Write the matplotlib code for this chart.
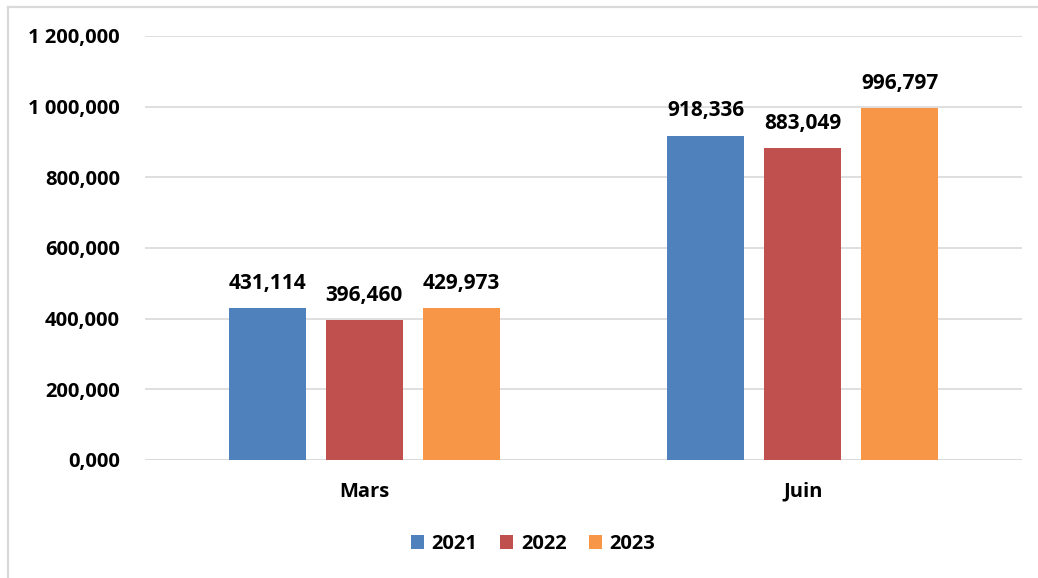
import matplotlib
matplotlib.use("Agg")
import matplotlib.pyplot as plt
from matplotlib.lines import Line2D
from matplotlib.ticker import FuncFormatter
import numpy as np

categories = ["Mars", "Juin"]
years = ["2021", "2022", "2023"]
values_2021 = [431.114, 918.336]
values_2022 = [396.460, 883.049]
values_2023 = [429.973, 996.797]
series = [values_2021, values_2022, values_2023]
colors = ["#4f81bd", "#c0504d", "#f79646"]

plt.rcParams['font.family'] = ['Open Sans', 'DejaVu Sans']
plt.rcParams['font.weight'] = 'bold'

W, H = 1038, 578
fig = plt.figure(figsize=(W/100, H/100), dpi=100)
ax = fig.add_axes([145/W, 1-460/H, (1022-145)/W, (460-36)/H])

def fmt(v):
    s = f"{v:,.3f}"
    intpart, dec = s.split(".")
    intpart = intpart.replace(",", " ")
    return f"{intpart},{dec}"

x = np.arange(len(categories))
bw = 0.176
step = 0.221
for i, (vals, c, yr) in enumerate(zip(series, colors, years)):
    pos = x + (i - 1) * step
    ax.bar(pos, vals, width=bw, color=c, label=yr, zorder=3)
    for p, v in zip(pos, vals):
        ax.text(p, v + 40, fmt(v), ha='center', va='bottom', fontsize=15,
                fontweight='bold', color='black')

ax.set_xlim(-0.5, 1.5)
ax.set_ylim(0, 1200)
ax.set_yticks(np.arange(0, 1201, 200))
ax.yaxis.set_major_formatter(FuncFormatter(lambda v, p: fmt(v)))
ax.grid(axis='y', color='#d9d9d9', linewidth=1.2, zorder=0)
for s in ax.spines.values():
    s.set_visible(False)
ax.axhline(0, color='#d9d9d9', linewidth=1.2, zorder=1)
ax.tick_params(axis='y', length=0, pad=18, labelsize=14.5)
ax.tick_params(axis='x', length=0, pad=15.5, labelsize=14.5)
ax.set_xticks(x)
ax.set_xticklabels(categories)
for lbl in ax.get_xticklabels() + ax.get_yticklabels():
    lbl.set_fontweight('bold')

leg = fig.legend(loc='center', bbox_to_anchor=(533/W, 1-544/H), ncol=3,
                 frameon=False, fontsize=14.5, handlelength=0.65, handleheight=0.65,
                 handletextpad=0.4, columnspacing=1.1)
for t in leg.get_texts():
    t.set_fontweight('bold')

# outer chart border (only top and left edges fall inside the image)
fig.lines.append(Line2D([7.5/W, 7.5/W], [0, 1-6.5/H], transform=fig.transFigure,
                        color='#d9d9d9', linewidth=1.6))
fig.lines.append(Line2D([7.5/W, 1], [1-6.5/H, 1-6.5/H], transform=fig.transFigure,
                        color='#d9d9d9', linewidth=1.6))

fig.savefig("out.png", dpi=100, facecolor='white')
